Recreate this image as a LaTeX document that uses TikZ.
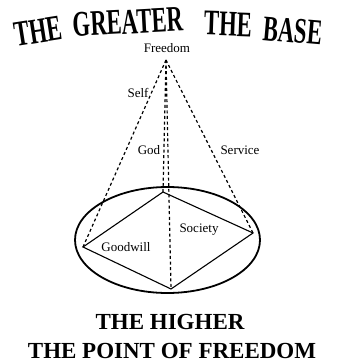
\documentclass[tikz,border=0pt]{standalone}
\usepackage{fontspec}
\setmainfont{Liberation Serif}
\newfontfamily\titlefont[FakeStretch=0.63]{Liberation Serif}

\begin{document}
\begin{tikzpicture}[x=1pt, y=-1pt,
    every node/.style={font=\fontsize{13}{15}\selectfont, inner sep=0pt},
    cone/.style={line width=1.2pt, dash pattern=on 3pt off 2.6pt},
    headword/.style={font=\titlefont\bfseries\fontsize{36}{36}\selectfont},
    motto/.style={font=\bfseries\fontsize{23}{28}\selectfont, anchor=base}]
  \useasboundingbox (0,0) rectangle (339,362);
  % heading, set along a shallow arch
  \foreach \w/\x/\y/\a in {THE/38/31/9, GREATER/128/22/3, THE/228/24/-2, BASE/293/31/-5}
    \node[headword, rotate=\a] (head\x) at (\x,\y) {\w};
  % apex and the four corners of the base
  \coordinate (apex) at (166,60);
  \coordinate (left) at (83,247);
  \coordinate (back) at (163,192);
  \coordinate (right) at (253,233);
  \coordinate (front) at (171,289);
  \draw[line width=1.8pt] (167.5,240) ellipse [x radius=92.5, y radius=53];
  \draw[line width=1.1pt] (left) -- (back) -- (right) -- (front) -- cycle;
  \foreach \v in {left,back,right,front}
    \draw[cone] (apex) -- (\v);
  % labels
  \node (freedom) at (167,48) {Freedom};
  \node (self) at (138,93) {Self};
  \node (god) at (149,150) {God};
  \node (service) at (240,150) {Service};
  \node (society) at (199,230) {Society};
  \node (goodwill) at (126,247) {Goodwill};
  \node[motto] (higher) at (170,329) {THE HIGHER};
  \node[motto] (point) at (172,358) {THE POINT OF FREEDOM};
\end{tikzpicture}
\end{document}
